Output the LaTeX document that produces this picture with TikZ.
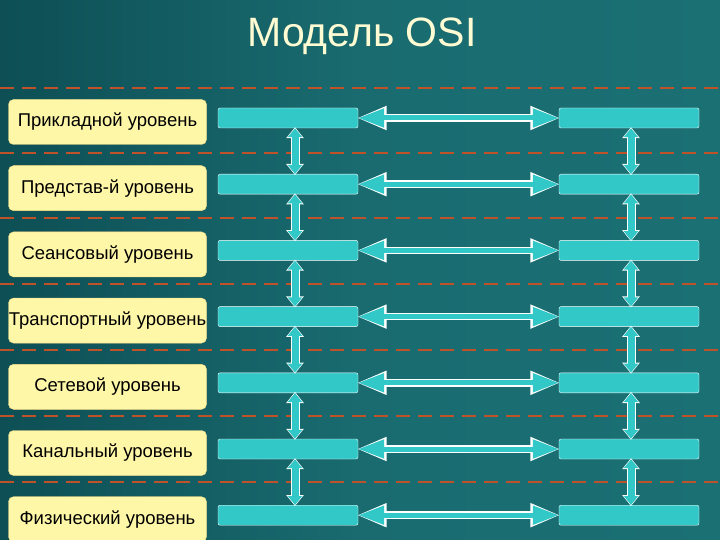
\documentclass[tikz,border=0pt]{standalone}
\usepackage{fontspec}
\setmainfont{Liberation Sans}
\usetikzlibrary{arrows.meta}
\definecolor{bgA}{HTML}{0D4F55}
\definecolor{bgB}{HTML}{1B7074}
\definecolor{cyanbar}{HTML}{33C8C8}
\definecolor{boxy}{HTML}{FFF7A8}
\definecolor{dashred}{HTML}{C0522A}
\begin{document}
\begin{tikzpicture}[x=1pt,y=-1pt,
  lvl/.style={draw=boxy!80!orange,fill=boxy,rounded corners=5pt,minimum width=198pt,minimum height=45pt,font=\fontsize{18.5}{20}\selectfont,inner sep=0pt},
  bar/.style={draw=white,fill=cyanbar,rounded corners=2pt,minimum width=140pt,minimum height=20pt,inner sep=0pt},
  arrW/.style={line width=7.5pt,white,{Triangle[width=22pt,length=30pt]}-{Triangle[width=22pt,length=30pt]},shorten <=-1.5pt,shorten >=-1.5pt},
  arrC/.style={line width=5pt,cyanbar,{Triangle[width=18pt,length=26pt]}-{Triangle[width=18pt,length=26pt]}},
  varrW/.style={line width=9pt,white,{Triangle[width=17pt,length=11pt]}-{Triangle[width=17pt,length=11pt]},shorten <=-1pt,shorten >=-1pt},
  varrC/.style={line width=7pt,cyanbar,{Triangle[width=14pt,length=9pt]}-{Triangle[width=14pt,length=9pt]}},
  dl/.style={dashred,line width=1.6pt,dash pattern=on 14pt off 8pt}]
\shade[left color=bgA,right color=bgB,middle color=bgB!85!bgA] (0,0) rectangle (720,540);
\useasboundingbox (0,0) rectangle (720,540);
\node[text=boxy!50!white,font=\fontsize{41}{46}\selectfont] (title) at (362,36) {Модель OSI};
\foreach \y/\i in {88/1,153/2,218/3,284/4,350/5,416/6,482/7}{
  \coordinate (dA\i) at (0,\y); \coordinate (dB\i) at (720,\y);
  \draw[dl] (dA\i) -- (dB\i);}
\foreach \t [count=\i] in {Прикладной уровень,Представ-й уровень,Сеансовый уровень,Транспортный уровень,Сетевой уровень,Канальный уровень,Физический уровень}{
  \pgfmathsetmacro{\yy}{118+(\i-1)*66.2}
  \node[lvl] (L\i) at (107.5,\yy+4) {\t};
  \node[bar] (A\i) at (288,\yy) {};
  \node[bar] (B\i) at (629,\yy) {};
  \draw[arrW] (A\i.east) -- (B\i.west);
  \draw[arrC] (A\i.east) -- (B\i.west);
}
\foreach \i [evaluate=\i as \j using int(\i+1)] in {1,...,6}{
  \draw[varrW] ([xshift=7pt]A\i.south) -- ([xshift=7pt]A\j.north);
  \draw[varrC] ([xshift=7pt]A\i.south) -- ([xshift=7pt]A\j.north);
  \draw[varrW] ([xshift=2pt]B\i.south) -- ([xshift=2pt]B\j.north);
  \draw[varrC] ([xshift=2pt]B\i.south) -- ([xshift=2pt]B\j.north);
}
\end{tikzpicture}
\end{document}
